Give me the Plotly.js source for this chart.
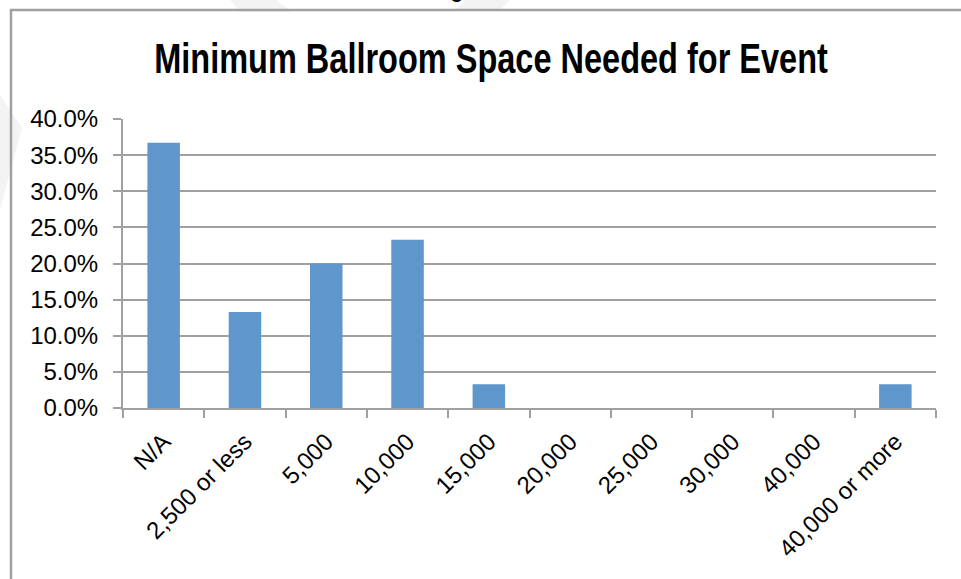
<!DOCTYPE html>
<html>
<head>
<meta charset="utf-8">
<script src="https://cdn.plot.ly/plotly-3.0.1.min.js"></script>
<style>
  html, body { margin: 0; padding: 0; background: #ffffff; }
  #chart { width: 961px; height: 579px; }
</style>
</head>
<body>
<div id="chart"></div>
<script>
// Ballroom size categories (sq ft) and share of responses (%)
const categories = ['N/A', '2,500 or less', '5,000', '10,000', '15,000',
                    '20,000', '25,000', '30,000', '40,000', '40,000 or more'];
const shares = [36.7, 13.3, 20.0, 23.3, 3.3, 0, 0, 0, 0, 3.3];
const yTicks = [0, 5, 10, 15, 20, 25, 30, 35, 40];
const yTickText = yTicks.map(v => v.toFixed(1) + '%');
const chartTitle = 'Minimum Ballroom Space Needed for Event';
const figureLabel = 'Figure 5.5';

const W = 961, H = 579;
const M = { l: 123, r: 25, t: 119, b: 171 };
const plotW = W - M.l - M.r, plotH = H - M.t - M.b;
// pixel -> paper helpers for the outer frame and background marks
const px = x => (x - M.l) / plotW;
const py = y => 1 - (y - M.t) / plotH;
const pathOf = pts => pts.map((p, i) => (i ? 'L ' : 'M ') + px(p[0]) + ' ' + py(p[1])).join(' ') + ' Z';

const axisGrey = '#a0a0a0';
const font = 'Liberation Sans, Arial, sans-serif';
const titleCenter = 491;
const titleSqueeze = 0.774;

const trace = {
  type: 'bar',
  x: categories,
  y: shares,
  marker: { color: '#5f96cc', line: { width: 0 } },
  hoverinfo: 'x+y'
};

const layout = {
  width: W, height: H,
  margin: M,
  paper_bgcolor: '#ffffff',
  plot_bgcolor: 'rgba(0,0,0,0)',
  bargap: 0.6,
  showlegend: false,
  font: { family: font, color: '#000000', size: 24 },
  title: {
    text: chartTitle,
    font: { family: font, size: 42, weight: 'bold', color: '#000000' },
    x: titleCenter / W, xanchor: 'center', xref: 'container',
    y: 1 - 58 / H, yanchor: 'middle', yref: 'container'
  },
  xaxis: {
    type: 'category',
    tickangle: -45,
    tickson: 'boundaries',
    ticks: 'outside', ticklen: 8, tickwidth: 2, tickcolor: axisGrey,
    showline: true, linecolor: axisGrey, linewidth: 2,
    showgrid: false,
    ticklabelstandoff: 8,
    tickfont: { family: font, size: 24, color: '#000000' },
    fixedrange: true
  },
  yaxis: {
    range: [0, 40],
    tickmode: 'array',
    tickvals: yTicks,
    ticktext: yTickText,
    ticks: 'outside', ticklen: 8, tickwidth: 2, tickcolor: axisGrey,
    showline: true, linecolor: axisGrey, linewidth: 2,
    showgrid: true, gridcolor: axisGrey, gridwidth: 2,
    zeroline: false,
    ticklabelstandoff: 10,
    tickfont: { family: font, size: 24, color: '#000000' },
    fixedrange: true
  },
  shapes: [
    // faint background logo marks
    { type: 'path', xref: 'paper', yref: 'paper', layer: 'below',
      path: pathOf([[0, 95], [22, 128], [0, 210]]),
      fillcolor: '#f3f3f3', line: { width: 0 } },
    { type: 'path', xref: 'paper', yref: 'paper', layer: 'below',
      path: pathOf([[226, -5], [270, -5], [292, 12], [240, 12]]),
      fillcolor: '#f3f3f3', line: { width: 0 } },
    { type: 'path', xref: 'paper', yref: 'paper', layer: 'below',
      path: pathOf([[470, -5], [515, -5], [500, 10], [455, 10]]),
      fillcolor: '#f3f3f3', line: { width: 0 } },
    // outer chart frame (left and top edges)
    { type: 'path', xref: 'paper', yref: 'paper', layer: 'below',
      path: `M ${px(11)} ${py(H + 5)} L ${px(11)} ${py(10)} L ${px(W + 5)} ${py(10)}`,
      line: { color: '#a0a0a0', width: 2.5 } }
  ],
  annotations: [
    { text: figureLabel, xref: 'paper', yref: 'paper',
      x: px(480), y: py(-9), xanchor: 'center', yanchor: 'middle',
      showarrow: false, font: { family: font, size: 20, weight: 'bold', color: '#000000' } }
  ]
};

Plotly.newPlot('chart', [trace], layout, { displayModeBar: false, staticPlot: true })
  .then(gd => {
    // condense the bold title horizontally around its centre
    const t = gd.querySelector('.gtitle');
    if (t) {
      t.setAttribute('transform',
        `translate(${titleCenter},0) scale(${titleSqueeze},1) translate(${-titleCenter},0)`);
    }
  });
</script>
</body>
</html>
